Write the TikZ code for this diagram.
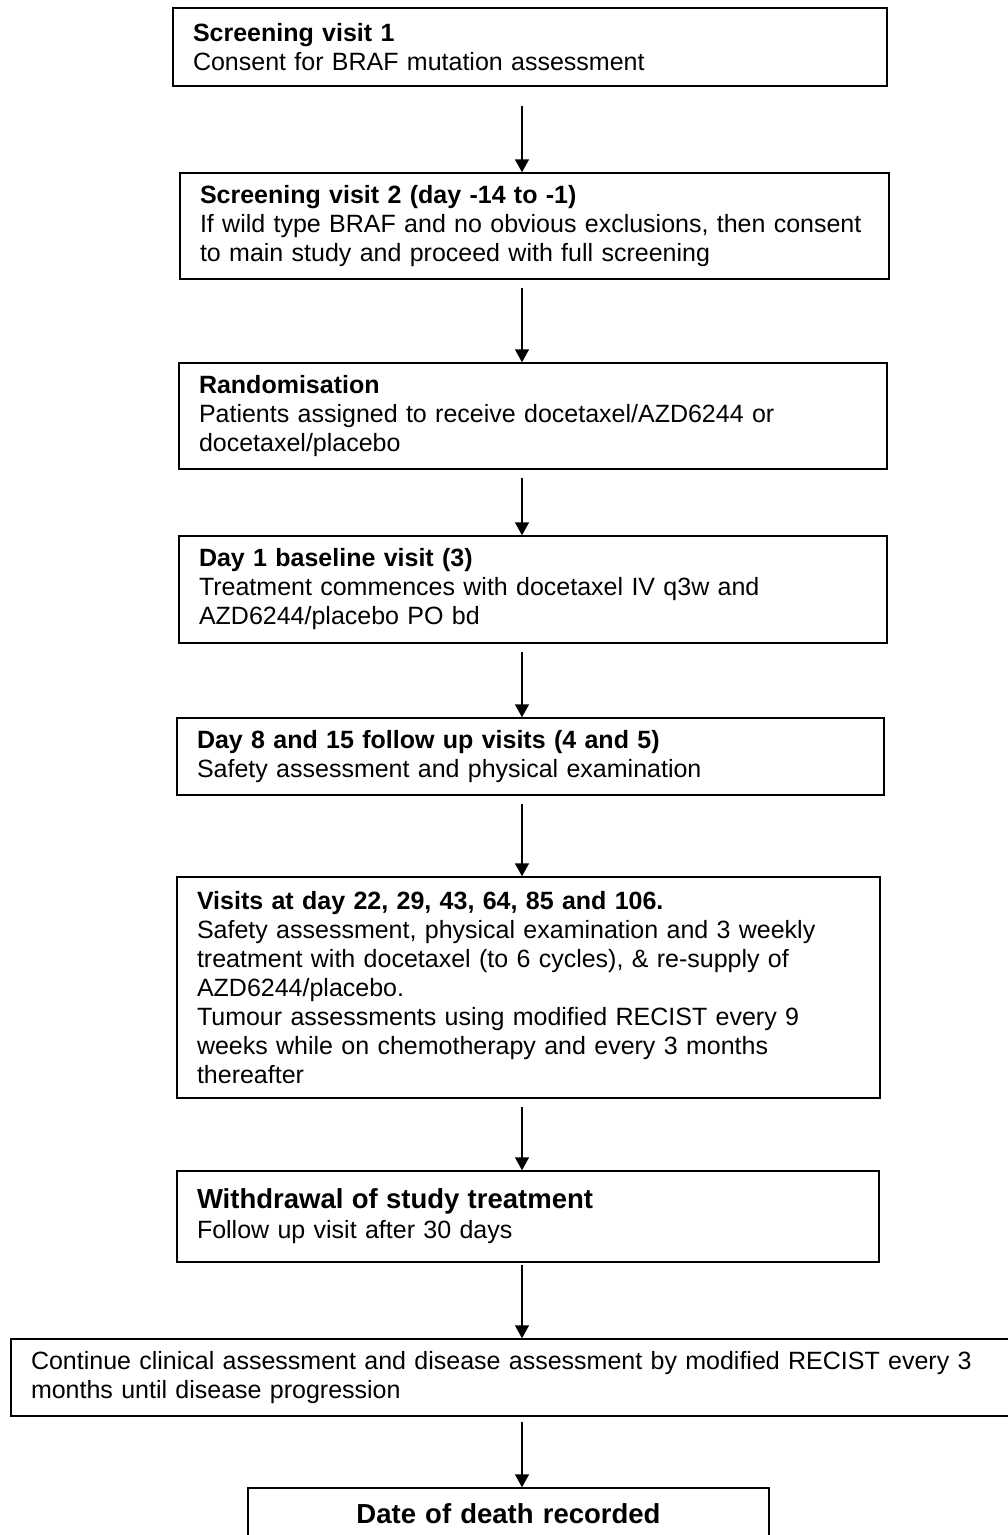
\documentclass[tikz,border=0pt]{standalone}
\usepackage{fontspec}
\setmainfont{Liberation Sans}
\usetikzlibrary{arrows.meta}
\begin{document}
\begin{tikzpicture}[x=1pt,y=-1pt,
  stepbox/.style={draw=black, line width=1.5pt, fill=white, align=left,
    inner xsep=20pt, inner ysep=0pt, font=\fontsize{25}{29}\selectfont},
  arr/.style={line width=1.6pt, -{Triangle[length=13pt,width=14pt]}, shorten <=8pt}]
\useasboundingbox (0,0) rectangle (1008,1535);
\coordinate (ax) at (522,0);
\node[stepbox, text width=674pt, minimum height=78pt] (b1) at (530,47)
  {\textbf{Screening visit 1}\\Consent for BRAF mutation assessment};
\node[stepbox, text width=669pt, minimum height=106pt] (b2) at (534.5,226)
  {\textbf{Screening visit 2 (day -14 to -1)}\\If wild type BRAF and no obvious exclusions, then consent\\to main study and proceed with full screening};
\node[stepbox, text width=668pt, minimum height=106pt] (b3) at (533,416)
  {\textbf{Randomisation}\\Patients assigned to receive docetaxel/AZD6244 or\\docetaxel/placebo};
\node[stepbox, text width=668pt, minimum height=107pt] (b4) at (533,589.5)
  {\textbf{Day 1 baseline visit (3)}\\Treatment commences with docetaxel IV q3w and\\AZD6244/placebo PO bd};
\node[stepbox, text width=667pt, minimum height=77pt] (b5) at (530.5,756.5)
  {\textbf{Day 8 and 15 follow up visits (4 and 5)}\\Safety assessment and physical examination};
\node[stepbox, text width=663pt, minimum height=221pt] (b6) at (528.5,987.5)
  {\textbf{Visits at day 22, 29, 43, 64, 85 and 106.}\\Safety assessment, physical examination and 3 weekly\\treatment with docetaxel (to 6 cycles), \& re-supply of\\AZD6244/placebo.\\Tumour assessments using modified RECIST every 9\\weeks while on chemotherapy and every 3 months\\thereafter};
\node[stepbox, text width=662pt, minimum height=91pt] (b7) at (528,1216.5)
  {{\fontsize{27.5}{31}\selectfont\textbf{Withdrawal of study treatment}}\\[1pt]Follow up visit after 30 days};
\node[stepbox, text width=969pt, minimum height=77pt] (b8) at (515.5,1377.5)
  {Continue clinical assessment and disease assessment by modified RECIST every 3\\months until disease progression};
\node[stepbox, align=center, text width=481pt, minimum height=52pt,
  font=\fontsize{27.5}{31}\selectfont\bfseries] (b9) at (508.5,1514)
  {Date of death recorded};
\draw[arr, shorten <=19pt] (b1.south -| ax) -- (b2.north -| ax);
\draw[arr] (b2.south -| ax) -- (b3.north -| ax);
\draw[arr] (b3.south -| ax) -- (b4.north -| ax);
\draw[arr] (b4.south -| ax) -- (b5.north -| ax);
\draw[arr] (b5.south -| ax) -- (b6.north -| ax);
\draw[arr] (b6.south -| ax) -- (b7.north -| ax);
\draw[arr, shorten <=2pt] (b7.south -| ax) -- (b8.north -| ax);
\draw[arr, shorten <=5pt] (b8.south -| ax) -- (b9.north -| ax);
\end{tikzpicture}
\end{document}
